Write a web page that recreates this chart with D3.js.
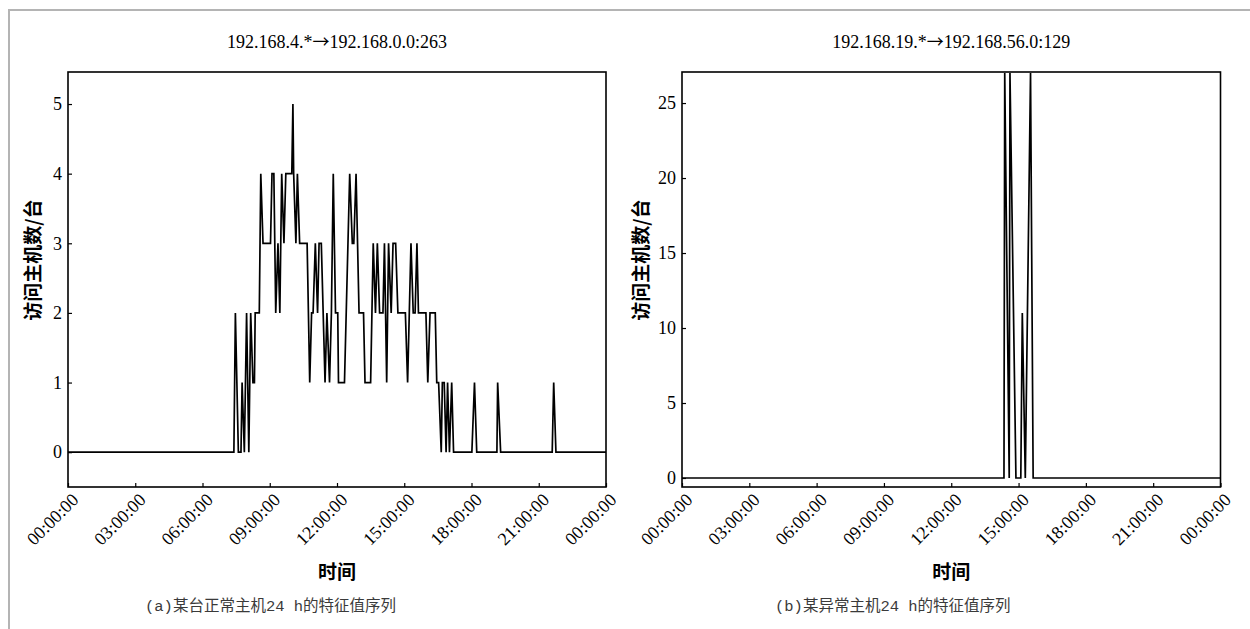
<!DOCTYPE html>
<html>
<head>
<meta charset="utf-8">
<script src="https://cdn.jsdelivr.net/npm/d3@7"></script>
<style>
  body { margin: 0; background: #fff; }
  svg { display: block; }
</style>
</head>
<body>
<div id="figure"></div>
<script>
// ---- data ----
const xTickTimes = ["00:00", "03:00", "06:00", "09:00", "12:00", "15:00", "18:00", "21:00", "24:00"];

// (a) normal host
const titleA = "192.168.4.*→192.168.0.0:263";
const timesA = [
  "00:00", "07:24", "07:28", "07:36", "07:43", "07:46", "07:52", "07:58", "08:04", "08:09",
  "08:15", "08:19", "08:21", "08:32", "08:36", "08:42", "09:02", "09:06", "09:11", "09:16",
  "09:22", "09:27", "09:32", "09:38", "09:43", "09:59", "10:02", "10:04", "10:10", "10:14",
  "10:20", "10:40", "10:47", "10:52", "10:56", "11:02", "11:08", "11:12", "11:18", "11:28",
  "11:33", "11:40", "11:45", "11:50", "11:56", "12:02", "12:04", "12:20", "12:34", "12:41",
  "12:45", "12:51", "12:59", "13:11", "13:15", "13:30", "13:37", "13:43", "13:48", "13:54",
  "14:03", "14:07", "14:13", "14:18", "14:25", "14:30", "14:37", "14:43", "15:03", "15:09",
  "15:18", "15:24", "15:29", "15:34", "15:38", "15:58", "16:03", "16:09", "16:23", "16:27",
  "16:32", "16:39", "16:42", "16:47", "16:52", "16:56", "17:01", "17:07", "17:12", "18:01",
  "18:08", "18:14", "19:08", "19:10", "19:18", "21:36", "21:40", "21:46", "24:00"
];
const valuesA = [
  0, 0, 2, 0, 0, 1, 0, 2, 0, 2,
  1, 1, 2, 2, 4, 3, 3, 4, 4, 2,
  3, 2, 4, 3, 4, 4, 5, 4, 3, 4,
  3, 3, 1, 2, 2, 3, 2, 3, 3, 1,
  2, 1, 2, 4, 2, 2, 1, 1, 4, 3,
  3, 4, 2, 2, 1, 1, 3, 2, 3, 2,
  2, 3, 1, 3, 2, 3, 3, 2, 2, 1,
  3, 2, 2, 3, 2, 2, 1, 2, 2, 1,
  1, 0, 1, 1, 0, 1, 0, 1, 0, 0,
  1, 0, 0, 1, 0, 0, 1, 0, 0
];
const yTicksA = [0, 1, 2, 3, 4, 5];

// (b) abnormal host
const titleB = "192.168.19.*→192.168.56.0:129";
const timesB = ["00:00", "14:21", "14:23", "14:35", "14:37", "14:53", "15:06", "15:10", "15:18", "15:32", "15:39", "24:00"];
const valuesB = [0, 0, 27, 0, 27, 0, 0, 11, 0, 27, 0, 0];
const yTicksB = [0, 5, 10, 15, 20, 25];

const yLabel = "访问主机数/台";
const xLabel = "时间";
const captionA = "(a)某台正常主机24 h的特征值序列";
const captionB = "(b)某异常主机24 h的特征值序列";

// ---- drawing ----
const toDate = s => {
  const [h, m] = s.split(":").map(Number);
  return new Date(2020, 0, 1, h, m);
};

const serif = "'Liberation Serif', 'Times New Roman', serif";
const cjk = "'Noto Sans CJK SC', sans-serif";

const svg = d3.select("#figure")
  .append("svg")
  .attr("width", 1250)
  .attr("height", 629);

// light frame around the figure (top + left only)
svg.append("path")
  .attr("d", "M9,629 V10 H1250")
  .attr("fill", "none")
  .attr("stroke", "#b4b4b4")
  .attr("stroke-width", 2);

const plotTop = 72, plotBottom = 487;

drawPanel({
  left: 68, right: 606, title: titleA,
  times: timesA, values: valuesA,
  yDomain: [-0.5, 5.46], yTicks: yTicksA,
  yLabelX: 33, caption: captionA, captionX: 145
});

drawPanel({
  left: 682, right: 1220.5, title: titleB,
  times: timesB, values: valuesB,
  yDomain: [-0.6, 27.07], yTicks: yTicksB,
  yLabelX: 641, caption: captionB, captionX: 775
});

function drawPanel(cfg) {
  const g = svg.append("g");

  const x = d3.scaleTime()
    .domain([toDate("00:00"), toDate("24:00")])
    .range([cfg.left, cfg.right]);

  const y = d3.scaleLinear()
    .domain(cfg.yDomain)
    .range([plotBottom, plotTop]);

  // x axis
  const xAxis = d3.axisBottom(x)
    .tickValues(xTickTimes.map(toDate))
    .tickSizeInner(-4)
    .tickSizeOuter(0)
    .tickFormat(d3.timeFormat("%H:%M:%S"));
  const xg = g.append("g")
    .attr("transform", `translate(0, ${plotBottom})`)
    .call(xAxis);
  xg.select(".domain").remove();
  xg.selectAll(".tick line").attr("stroke", "#000").attr("stroke-width", 1.2);
  xg.selectAll(".tick text")
    .attr("x", 0).attr("y", 0).attr("dy", 0)
    .attr("text-anchor", "end")
    .attr("transform", "translate(11, 14) rotate(-45)")
    .attr("fill", "#000")
    .style("font-family", serif)
    .style("font-size", "18px");

  // y axis
  const yAxis = d3.axisLeft(y)
    .tickValues(cfg.yTicks)
    .tickSizeInner(-4)
    .tickSizeOuter(0)
    .tickPadding(6)
    .tickFormat(d3.format("d"));
  const yg = g.append("g")
    .attr("transform", `translate(${cfg.left}, 0)`)
    .call(yAxis);
  yg.select(".domain").remove();
  yg.selectAll(".tick line").attr("stroke", "#000").attr("stroke-width", 1.2);
  yg.selectAll(".tick text")
    .attr("fill", "#000")
    .style("font-family", serif)
    .style("font-size", "18px");

  // series
  const pts = cfg.times.map((t, i) => ({ t: toDate(t), v: cfg.values[i] }));
  const line = d3.line()
    .x(d => x(d.t))
    .y(d => y(d.v));
  g.append("path")
    .datum(pts)
    .attr("d", line)
    .attr("fill", "none")
    .attr("stroke", "#000")
    .attr("stroke-width", 1.7);

  // plot frame
  g.append("rect")
    .attr("x", cfg.left)
    .attr("y", plotTop)
    .attr("width", cfg.right - cfg.left)
    .attr("height", plotBottom - plotTop)
    .attr("fill", "none")
    .attr("stroke", "#000")
    .attr("stroke-width", 1.6);

  // title (arrow drawn with a full-width glyph)
  const [from, to] = cfg.title.split("→");
  const title = g.append("text")
    .attr("x", (cfg.left + cfg.right) / 2)
    .attr("y", 48)
    .attr("text-anchor", "middle")
    .style("font-family", serif)
    .style("font-size", "18px");
  title.append("tspan").text(from);
  title.append("tspan").text("→").style("font-family", cjk).style("font-size", "17px");
  title.append("tspan").text(to);

  // axis labels
  g.append("text")
    .text(yLabel)
    .attr("transform", `translate(${cfg.yLabelX}, 260) rotate(-90)`)
    .attr("text-anchor", "middle")
    .attr("dy", "0.35em")
    .style("font-family", cjk)
    .style("font-weight", "bold")
    .style("font-size", "19px");

  g.append("text")
    .text(xLabel)
    .attr("x", (cfg.left + cfg.right) / 2)
    .attr("y", 579)
    .attr("text-anchor", "middle")
    .style("font-family", cjk)
    .style("font-weight", "bold")
    .style("font-size", "19px");

  // caption
  g.append("text")
    .text(cfg.caption)
    .attr("x", cfg.captionX)
    .attr("y", 611)
    .attr("fill", "#3a3a3a")
    .style("font-family", "'Liberation Mono', 'Noto Sans CJK SC', monospace")
    .style("font-size", "15.5px");
}
</script>
</body>
</html>
